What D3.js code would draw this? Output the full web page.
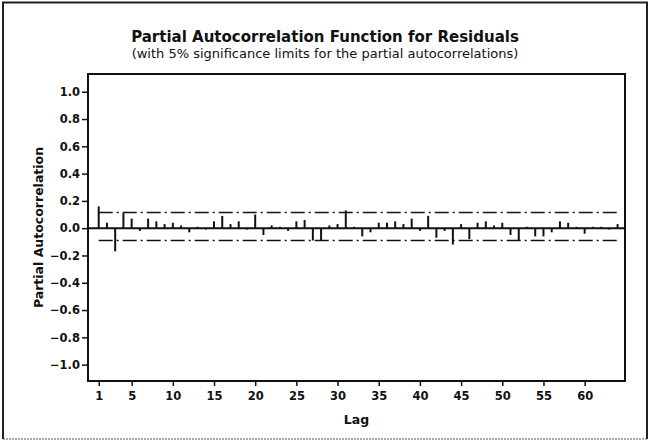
<!DOCTYPE html>
<html>
<head>
<meta charset="utf-8">
<script src="https://cdn.jsdelivr.net/npm/d3@7"></script>
<style>
  html, body { margin: 0; padding: 0; background: #fff; }
  svg { display: block; }
  svg text { font-family: "DejaVu Sans", Verdana, sans-serif; fill: #111; }
</style>
</head>
<body>
<div id="chart"></div>
<script>
// Partial autocorrelation of residuals, lags 1..64
const lags = d3.range(1, 65);
const pacfValues = [
  0.16, 0.04, -0.17, 0.11, 0.07, -0.02, 0.07, 0.05, 0.03, 0.04,
  0.02, -0.03, 0.01, -0.01, 0.05, 0.09, 0.03, 0.05, -0.01, 0.10,
  -0.05, 0.02, 0.01, -0.02, 0.05, 0.06, -0.09, -0.09, 0.02, 0.03,
  0.13, 0.01, -0.06, -0.03, 0.04, 0.04, 0.05, 0.03, 0.07, -0.02,
  0.09, -0.07, -0.02, -0.12, 0.03, -0.08, 0.04, 0.05, 0.02, 0.04,
  -0.05, -0.09, 0.01, -0.06, -0.06, -0.03, 0.05, 0.04, 0.01, -0.04,
  0.01, 0.01, -0.01, 0.03
];
// 5% significance limits
const upperLimit = 0.115;
const lowerLimit = -0.09;

const xTicks = [1, 5, 10, 15, 20, 25, 30, 35, 40, 45, 50, 55, 60];
const yTicks = [1.0, 0.8, 0.6, 0.4, 0.2, 0.0, -0.2, -0.4, -0.6, -0.8, -1.0];

const titleText = "Partial Autocorrelation Function for Residuals";
const subtitleText = "(with 5% significance limits for the partial autocorrelations)";

const width = 650, height = 442;
// plot frame in page pixels
const margin = { top: 74, right: 25, bottom: 61, left: 88 };
const innerWidth = width - margin.left - margin.right;
const innerHeight = height - margin.top - margin.bottom;

const svg = d3.select("#chart").append("svg")
  .attr("width", width)
  .attr("height", height);

svg.append("rect").attr("width", width).attr("height", height).attr("fill", "#fff");

// outer border of the scanned page: solid left/top/right, dotted bottom
svg.append("path")
  .attr("d", `M3,${height - 3} V2.5 H${width - 3} V${height - 3}`)
  .attr("fill", "none").attr("stroke", "#222").attr("stroke-width", 2);
svg.append("line")
  .attr("x1", 3).attr("x2", width - 3)
  .attr("y1", height - 3).attr("y2", height - 3)
  .attr("stroke", "#555").attr("stroke-width", 1).attr("stroke-dasharray", "2,1");

// titles
svg.append("text")
  .attr("x", width / 2).attr("y", 42)
  .attr("text-anchor", "middle")
  .attr("font-size", 15).attr("font-weight", "bold")
  .text(titleText);
svg.append("text")
  .attr("x", width / 2).attr("y", 58)
  .attr("text-anchor", "middle")
  .attr("font-size", 13)
  .text(subtitleText);

const plot = svg.append("g").attr("transform", `translate(${margin.left},${margin.top})`);

const x = d3.scaleLinear().domain([-0.3, 64.9]).range([0, innerWidth]);
const y = d3.scaleLinear().domain([-1.12, 1.13]).range([innerHeight, 0]);

// axes
const xAxis = d3.axisBottom(x).tickValues(xTicks).tickSize(5).tickPadding(6).tickFormat(d3.format("d"));
const yAxis = d3.axisLeft(y).tickValues(yTicks).tickSize(6).tickPadding(2).tickFormat(d3.format(".1f"));

const xAxisG = plot.append("g").attr("transform", `translate(0,${innerHeight})`).call(xAxis);
const yAxisG = plot.append("g").call(yAxis);
[xAxisG, yAxisG].forEach((g) => {
  g.select(".domain").remove();
  g.selectAll(".tick line").attr("stroke", "#111").attr("stroke-width", 1.5);
  g.selectAll(".tick text").attr("font-size", 11.5).attr("font-weight", "bold").attr("fill", "#111");
});

// zero line
plot.append("line")
  .attr("x1", 0).attr("x2", innerWidth)
  .attr("y1", y(0)).attr("y2", y(0))
  .attr("stroke", "#111").attr("stroke-width", 2);

// significance limits (dash-dot)
[upperLimit, lowerLimit].forEach((v) => {
  plot.append("line")
    .attr("x1", x(lags[0])).attr("x2", x(lags[lags.length - 1]))
    .attr("y1", y(v)).attr("y2", y(v))
    .attr("stroke", "#111").attr("stroke-width", 1.5)
    .attr("stroke-dasharray", "14,4,2,4");
});

// spikes
plot.append("g").selectAll("line")
  .data(lags.map((lag, i) => ({ lag, value: pacfValues[i] })))
  .join("line")
  .attr("x1", (d) => x(d.lag)).attr("x2", (d) => x(d.lag))
  .attr("y1", y(0)).attr("y2", (d) => y(d.value))
  .attr("stroke", "#111").attr("stroke-width", 2);

// frame
plot.append("rect")
  .attr("width", innerWidth).attr("height", innerHeight)
  .attr("fill", "none").attr("stroke", "#111").attr("stroke-width", 2);

// axis titles
svg.append("text")
  .attr("x", margin.left + innerWidth / 2).attr("y", 424)
  .attr("text-anchor", "middle")
  .attr("font-size", 12.5).attr("font-weight", "bold")
  .text("Lag");
svg.append("text")
  .attr("transform", `translate(43,${margin.top + innerHeight / 2}) rotate(-90)`)
  .attr("text-anchor", "middle")
  .attr("font-size", 12.5).attr("font-weight", "bold")
  .text("Partial Autocorrelation");
</script>
</body>
</html>
